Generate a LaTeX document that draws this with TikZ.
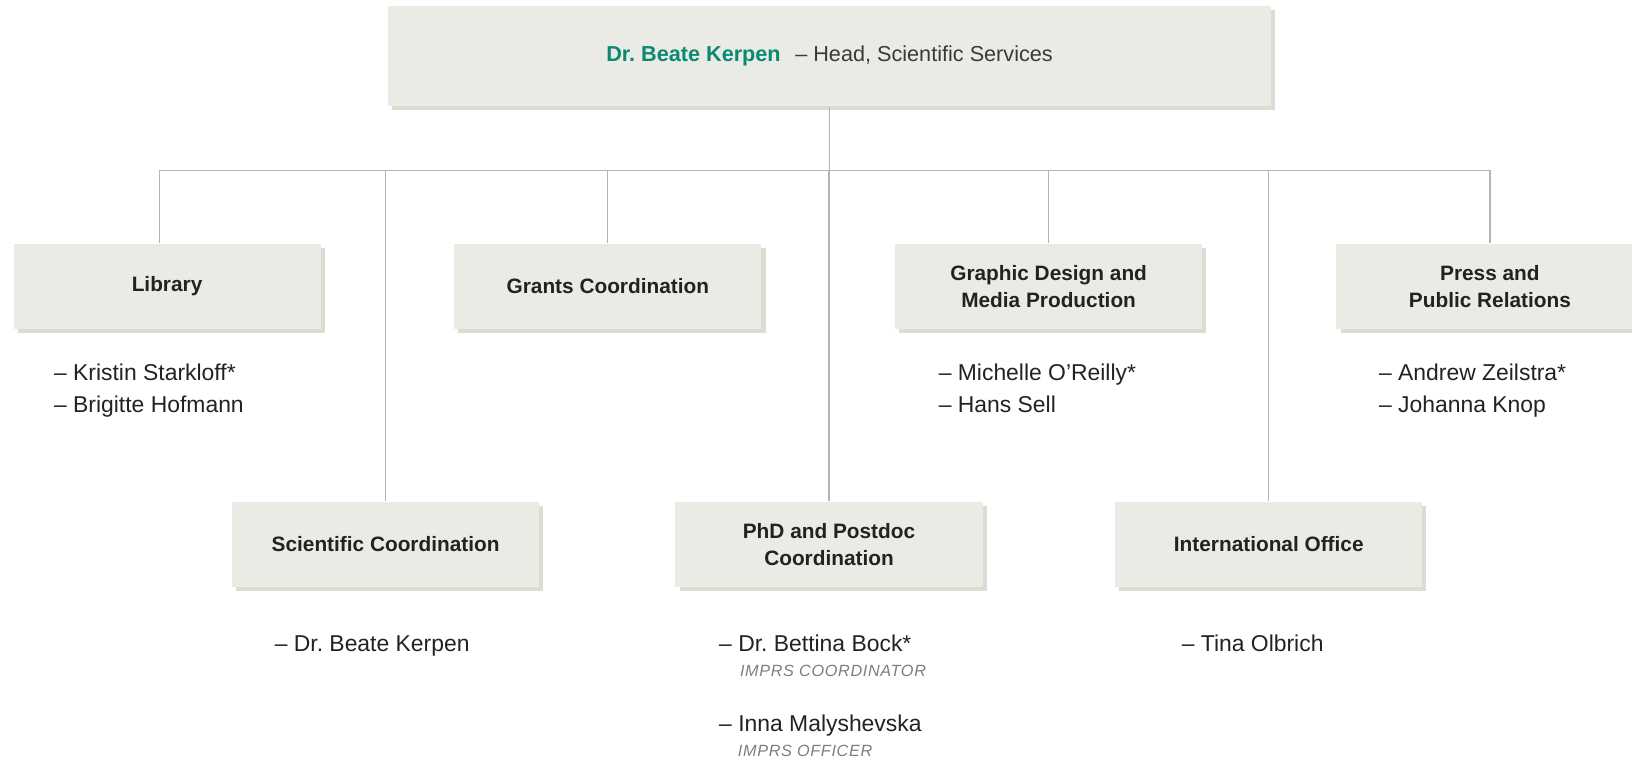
\documentclass[tikz,border=0pt]{standalone}
\usepackage{fontspec}
\setmainfont{Liberation Sans}
\newfontfamily\rolefont[LetterSpace=4]{Liberation Sans}
\usepackage{xcolor}
\usepackage{tikz}
\usetikzlibrary{positioning, shadows}
\frenchspacing

\definecolor{boxfill}{HTML}{EBEBE5}
\definecolor{shadowfill}{HTML}{DCDCD2}
\definecolor{linegrey}{HTML}{B4B4B4}
\definecolor{headteal}{HTML}{0A8A72}
\definecolor{ink}{HTML}{222222}
\definecolor{softink}{HTML}{3A3A3A}
\definecolor{rolegrey}{HTML}{7E7E7E}

\begin{document}
\begin{tikzpicture}[
  x=0.5pt, y=-0.5pt,
  card/.style={rectangle, fill=boxfill, inner sep=0pt, align=center,
    drop shadow={shadow xshift=2pt, shadow yshift=-2pt, fill=shadowfill, opacity=1}},
  unit/.style={card, text=ink, minimum width=147.5pt, minimum height=41pt,
    font=\fontsize{10}{13}\selectfont\bfseries},
  staff/.style={anchor=base west, inner sep=0pt, text=ink, font=\fontsize{11}{13}\selectfont},
  role/.style={anchor=base west, inner sep=0pt, text=rolegrey,
    font=\rolefont\itshape\fontsize{7.8}{9}\selectfont},
  link/.style={draw=linegrey, line width=0.6pt}
]
\useasboundingbox (0,0) rectangle (1568,731);

% head of the unit
\node[card, minimum width=424pt, minimum height=48pt, text=softink,
  font=\fontsize{10.4}{13}\selectfont] (head) at (797,54)
  {\textcolor{headteal}{\bfseries Dr. Beate Kerpen}\hspace{7pt}– Head, Scientific Services};

% top row
\node[unit] (lib) at (160.5,275) {Library};
\node[unit] (grants) at (584,275) {Grants Coordination};
\node[unit] (graphic) at (1007.5,275) {Graphic Design and\\Media Production};
\node[unit] (press) at (1431.5,275) {Press and\\Public Relations};

% bottom row
\node[unit] (sci) at (370.5,523) {Scientific Coordination};
\node[unit] (phd) at (796.5,523) {PhD and Postdoc\\Coordination};
\node[unit] (intl) at (1219,523) {International Office};

% connectors
\coordinate (bus) at (797,164);
\draw[link] (head.south) -- (bus);
\draw[link] (bus) -| ([xshift=-3.5pt]lib.north);
\foreach \u in {grants, graphic, press, sci, phd, intl}
  \draw[link] (bus) -| (\u.north);

% staff
\node[staff] (kristin) at ([shift={(39,49)}]lib.south west) {– Kristin Starkloff*};
\node[staff] (brigitte) at ([shift={(39,80)}]lib.south west) {– Brigitte Hofmann};
\node[staff] (michelle) at ([shift={(42,49)}]graphic.south west) {– Michelle O’Reilly*};
\node[staff] (hans) at ([shift={(42,80)}]graphic.south west) {– Hans Sell};
\node[staff] (andrew) at ([shift={(41,49)}]press.south west) {– Andrew Zeilstra*};
\node[staff] (johanna) at ([shift={(41,80)}]press.south west) {– Johanna Knop};
\node[staff] (beate) at ([shift={(41,62)}]sci.south west) {– Dr. Beate Kerpen};
\node[staff] (bettina) at ([shift={(42,62)}]phd.south west) {– Dr. Bettina Bock*};
\node[role] (bettinarole) at ([shift={(62,86)}]phd.south west) {IMPRS COORDINATOR};
\node[staff] (inna) at ([shift={(42,138)}]phd.south west) {– Inna Malyshevska};
\node[role] (innarole) at ([shift={(60,162)}]phd.south west) {IMPRS OFFICER};
\node[staff] (tina) at ([shift={(64,62)}]intl.south west) {– Tina Olbrich};
\end{tikzpicture}
\end{document}
